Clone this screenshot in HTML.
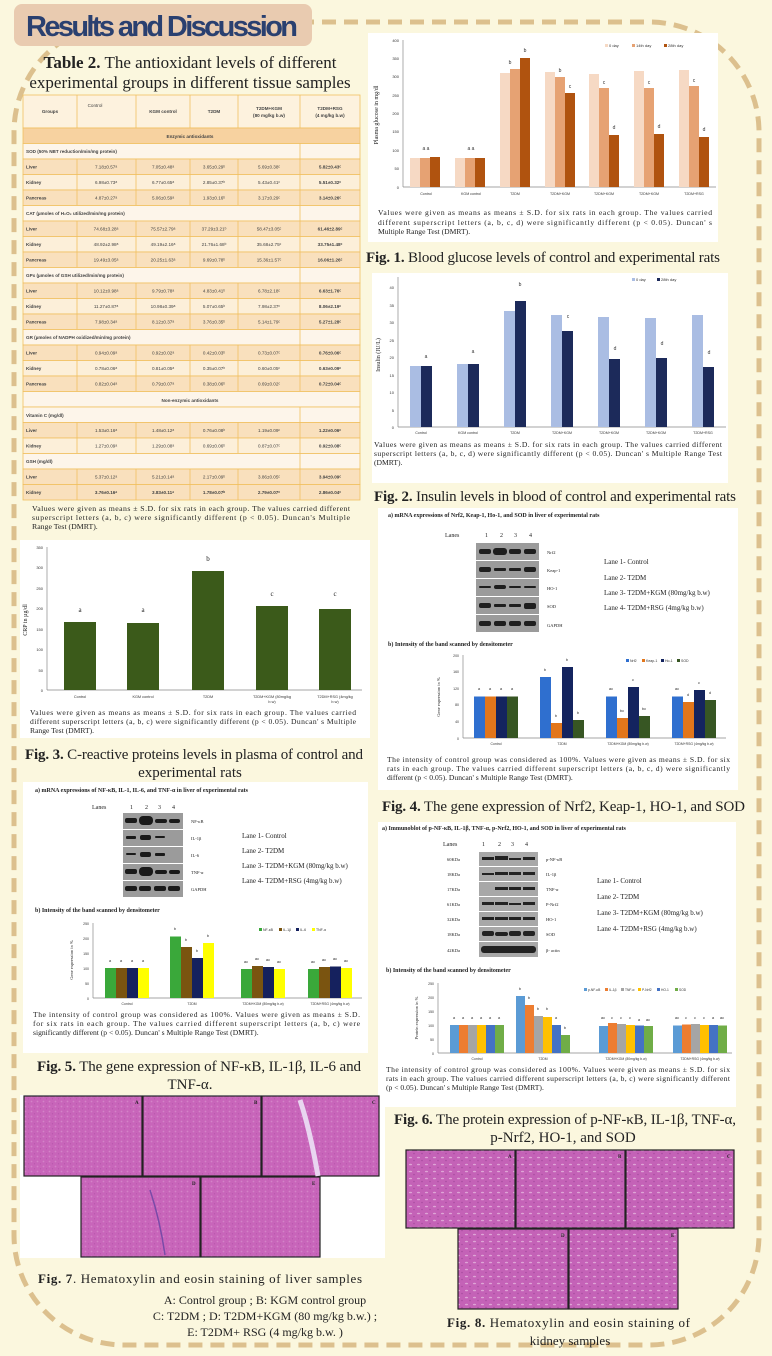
<!DOCTYPE html>
<html><head><meta charset="utf-8"><style>
html,body{margin:0;padding:0;background:#fbf7de;}
svg{display:block}
.s{font-family:"Liberation Serif",serif;fill:#222}
.a{font-family:"Liberation Sans",sans-serif;fill:#333}
.t{font-family:"Liberation Sans",sans-serif;font-size:4.6px;fill:#444;text-anchor:middle}
.tb{font-weight:bold}
</style></head><body>
<svg width="772" height="1356" viewBox="0 0 772 1356" xmlns="http://www.w3.org/2000/svg">
<defs>
<pattern id="he" width="6" height="5" patternUnits="userSpaceOnUse">
<rect width="6" height="5" fill="#c865ba"/>
<circle cx="1.5" cy="1.5" r="0.9" fill="#d383c8"/>
<circle cx="4.5" cy="3.8" r="0.6" fill="#b555aa"/>
</pattern>
<pattern id="hk" width="8" height="7" patternUnits="userSpaceOnUse">
<rect width="8" height="7" fill="#c462b7"/>
<ellipse cx="2.5" cy="2.5" rx="1.6" ry="0.8" fill="#dea4d6"/>
<circle cx="6" cy="5.5" r="0.8" fill="#a84ba0"/>
</pattern>
</defs>
<rect width="772" height="1356" fill="#fbf7de"/>
<rect x="14" y="22" width="745" height="1323" rx="110" fill="none" stroke="#dcc08e" stroke-width="5" stroke-dasharray="14 8"/>
<rect x="14" y="4" width="298" height="42" rx="8" fill="#e9cbb0"/>
<text x="26" y="36" font-family="Liberation Sans,sans-serif" font-weight="bold" font-size="29" fill="#2a4070" textLength="272">Results and Discussion</text>

<!-- Table 2 -->
<text x="190" y="68" class="s" font-size="17" text-anchor="middle"><tspan font-weight="bold">Table 2.</tspan> The antioxidant levels of different</text>
<text x="190" y="88" class="s" font-size="17" text-anchor="middle">experimental groups in different tissue samples</text>
<g stroke="#f0c060" stroke-width="0.8">
<rect x="23" y="95" width="337" height="33" fill="#fdf2de"/>
<rect x="23" y="128" width="337" height="15.5" fill="#f7d2a0"/>
<rect x="23" y="143.5" width="337" height="15.5" fill="#fdf5ea"/>
<rect x="23" y="159" width="337" height="15.5" fill="#f9e0bd"/>
<rect x="23" y="174.5" width="337" height="15.5" fill="#fcefd9"/>
<rect x="23" y="190" width="337" height="15.5" fill="#f9e0bd"/>
<rect x="23" y="205.5" width="337" height="15.5" fill="#fdf5ea"/>
<rect x="23" y="221" width="337" height="15.5" fill="#f9e0bd"/>
<rect x="23" y="236.5" width="337" height="15.5" fill="#fcefd9"/>
<rect x="23" y="252" width="337" height="15.5" fill="#f9e0bd"/>
<rect x="23" y="267.5" width="337" height="15.5" fill="#fdf5ea"/>
<rect x="23" y="283" width="337" height="15.5" fill="#f9e0bd"/>
<rect x="23" y="298.5" width="337" height="15.5" fill="#fcefd9"/>
<rect x="23" y="314" width="337" height="15.5" fill="#f9e0bd"/>
<rect x="23" y="329.5" width="337" height="15.5" fill="#fdf5ea"/>
<rect x="23" y="345" width="337" height="15.5" fill="#f9e0bd"/>
<rect x="23" y="360.5" width="337" height="15.5" fill="#fcefd9"/>
<rect x="23" y="376" width="337" height="15.5" fill="#f9e0bd"/>
<rect x="23" y="391.5" width="337" height="15.5" fill="#fdf5ea"/>
<rect x="23" y="407" width="337" height="15.5" fill="#fdf5ea"/>
<rect x="23" y="422.5" width="337" height="15.5" fill="#f9e0bd"/>
<rect x="23" y="438" width="337" height="15.5" fill="#fcefd9"/>
<rect x="23" y="453.5" width="337" height="15.5" fill="#fdf5ea"/>
<rect x="23" y="469" width="337" height="15.5" fill="#f9e0bd"/>
<rect x="23" y="484.5" width="337" height="15.5" fill="#f9e0bd"/>
<line x1="77" y1="95" x2="77" y2="128"/><line x1="136" y1="95" x2="136" y2="128"/><line x1="190" y1="95" x2="190" y2="128"/><line x1="238" y1="95" x2="238" y2="128"/><line x1="300" y1="95" x2="300" y2="128"/>
<path d="M77 159V205.5M136 159V205.5M190 159V205.5M238 159V205.5M300 143.5V205.5M77 221V267.5M136 221V267.5M190 221V267.5M238 221V267.5M300 205.5V267.5M77 283V329.5M136 283V329.5M190 283V329.5M238 283V329.5M300 267.5V329.5M77 345V391.5M136 345V391.5M190 345V391.5M238 345V391.5M300 329.5V391.5M77 422.5V453.5M136 422.5V453.5M190 422.5V453.5M238 422.5V453.5M300 407V453.5M77 469V500M136 469V500M190 469V500M238 469V500M300 453.5V500"/>
</g>
<g class="t">
<text x="50" y="113" class="tb">Groups</text><text x="95" y="107">Control</text><text x="163" y="113" class="tb">KGM control</text><text x="214" y="113" class="tb">T2DM</text><text x="269" y="110" class="tb">T2DM+KGM</text><text x="269" y="117" class="tb">(80 mg/kg b.w)</text><text x="330" y="110" class="tb">T2DM+RSG</text><text x="330" y="117" class="tb">(4 mg/kg b.w)</text>
<text x="190" y="138" class="tb">Enzymic antioxidants</text>
<text x="190" y="402" class="tb">Non-enzymic antioxidants</text>
</g>
<g class="t">
<text x="26" y="153" class="tb" style="text-anchor:start">SOD (50% NBT reduction/min/mg protein)</text>
<text x="26" y="215" class="tb" style="text-anchor:start">CAT (µmoles of H₂O₂ utilized/min/mg protein)</text>
<text x="26" y="277" class="tb" style="text-anchor:start">GPx (µmoles of GSH utilized/min/mg protein)</text>
<text x="26" y="339" class="tb" style="text-anchor:start">GR (µmoles of NADPH oxidized/min/mg protein)</text>
<text x="26" y="417" class="tb" style="text-anchor:start">Vitamin C (mg/dl)</text>
<text x="26" y="463" class="tb" style="text-anchor:start">GSH (mg/dl)</text>
<text x="26" y="168.5" class="tb" style="text-anchor:start">Liver</text><text x="26" y="184" class="tb" style="text-anchor:start">Kidney</text><text x="26" y="199.5" class="tb" style="text-anchor:start">Pancreas</text>
<text x="26" y="230.5" class="tb" style="text-anchor:start">Liver</text><text x="26" y="246" class="tb" style="text-anchor:start">Kidney</text><text x="26" y="261.5" class="tb" style="text-anchor:start">Pancreas</text>
<text x="26" y="292.5" class="tb" style="text-anchor:start">Liver</text><text x="26" y="308" class="tb" style="text-anchor:start">Kidney</text><text x="26" y="323.5" class="tb" style="text-anchor:start">Pancreas</text>
<text x="26" y="354.5" class="tb" style="text-anchor:start">Liver</text><text x="26" y="370" class="tb" style="text-anchor:start">Kidney</text><text x="26" y="385.5" class="tb" style="text-anchor:start">Pancreas</text>
<text x="26" y="432" class="tb" style="text-anchor:start">Liver</text><text x="26" y="447.5" class="tb" style="text-anchor:start">Kidney</text>
<text x="26" y="478.5" class="tb" style="text-anchor:start">Liver</text><text x="26" y="494" class="tb" style="text-anchor:start">Kidney</text>
</g>
<g class="t">
<text x="106" y="168.5">7.18±0.57ᵃ</text><text x="163" y="168.5">7.05±0.48ᵃ</text><text x="214" y="168.5">3.65±0.29ᵇ</text><text x="269" y="168.5">5.69±0.38ᶜ</text><text x="330" y="168.5" class="tb">5.82±0.43ᶜ</text>
<text x="106" y="184">6.98±0.73ᵃ</text><text x="163" y="184">6.77±0.65ᵃ</text><text x="214" y="184">2.85±0.37ᵇ</text><text x="269" y="184">5.43±0.41ᶜ</text><text x="330" y="184" class="tb">5.51±0.32ᶜ</text>
<text x="106" y="199.5">4.87±0.27ᵃ</text><text x="163" y="199.5">5.06±0.59ᵃ</text><text x="214" y="199.5">1.93±0.16ᵇ</text><text x="269" y="199.5">3.17±0.29ᶜ</text><text x="330" y="199.5" class="tb">3.14±0.26ᶜ</text>
<text x="106" y="230.5">74.68±3.28ᵃ</text><text x="163" y="230.5">75.57±2.79ᵃ</text><text x="214" y="230.5">37.29±3.21ᵇ</text><text x="269" y="230.5">58.47±3.05ᶜ</text><text x="330" y="230.5" class="tb">61.46±2.89ᶜ</text>
<text x="106" y="246">48.92±2.98ᵃ</text><text x="163" y="246">49.19±2.16ᵃ</text><text x="214" y="246">21.76±1.68ᵇ</text><text x="269" y="246">35.68±2.75ᶜ</text><text x="330" y="246" class="tb">33.75±1.48ᶜ</text>
<text x="106" y="261.5">19.49±3.05ᵃ</text><text x="163" y="261.5">20.25±1.63ᵃ</text><text x="214" y="261.5">9.69±0.78ᵇ</text><text x="269" y="261.5">15.36±1.57ᶜ</text><text x="330" y="261.5" class="tb">16.06±1.26ᶜ</text>
<text x="106" y="292.5">10.12±0.98ᵃ</text><text x="163" y="292.5">9.79±0.78ᵃ</text><text x="214" y="292.5">4.83±0.41ᵇ</text><text x="269" y="292.5">6.78±2.18ᶜ</text><text x="330" y="292.5" class="tb">6.63±1.76ᶜ</text>
<text x="106" y="308">11.27±0.87ᵃ</text><text x="163" y="308">10.98±0.39ᵃ</text><text x="214" y="308">5.07±0.65ᵇ</text><text x="269" y="308">7.98±2.37ᶜ</text><text x="330" y="308" class="tb">8.06±2.19ᶜ</text>
<text x="106" y="323.5">7.98±0.34ᵃ</text><text x="163" y="323.5">8.12±0.37ᵃ</text><text x="214" y="323.5">3.76±0.35ᵇ</text><text x="269" y="323.5">5.14±1.79ᶜ</text><text x="330" y="323.5" class="tb">5.27±1.28ᶜ</text>
<text x="106" y="354.5">0.94±0.09ᵃ</text><text x="163" y="354.5">0.92±0.02ᵃ</text><text x="214" y="354.5">0.42±0.03ᵇ</text><text x="269" y="354.5">0.73±0.07ᶜ</text><text x="330" y="354.5" class="tb">0.76±0.06ᶜ</text>
<text x="106" y="370">0.78±0.06ᵃ</text><text x="163" y="370">0.81±0.05ᵃ</text><text x="214" y="370">0.35±0.07ᵇ</text><text x="269" y="370">0.60±0.05ᶜ</text><text x="330" y="370" class="tb">0.63±0.09ᶜ</text>
<text x="106" y="385.5">0.82±0.04ᵃ</text><text x="163" y="385.5">0.79±0.07ᵃ</text><text x="214" y="385.5">0.38±0.06ᵇ</text><text x="269" y="385.5">0.69±0.02ᶜ</text><text x="330" y="385.5" class="tb">0.72±0.04ᶜ</text>
<text x="106" y="432">1.53±0.16ᵃ</text><text x="163" y="432">1.48±0.12ᵃ</text><text x="214" y="432">0.76±0.08ᵇ</text><text x="269" y="432">1.19±0.09ᶜ</text><text x="330" y="432" class="tb">1.22±0.06ᶜ</text>
<text x="106" y="447.5">1.27±0.09ᵃ</text><text x="163" y="447.5">1.29±0.08ᵃ</text><text x="214" y="447.5">0.69±0.06ᵇ</text><text x="269" y="447.5">0.87±0.07ᶜ</text><text x="330" y="447.5" class="tb">0.92±0.08ᶜ</text>
<text x="106" y="478.5">5.37±0.12ᵃ</text><text x="163" y="478.5">5.21±0.14ᵃ</text><text x="214" y="478.5">2.17±0.09ᵇ</text><text x="269" y="478.5">3.86±0.05ᶜ</text><text x="330" y="478.5" class="tb">3.94±0.09ᶜ</text>
<text x="106" y="494" class="tb">3.76±0.16ᵃ</text><text x="163" y="494" class="tb">3.83±0.11ᵃ</text><text x="214" y="494" class="tb">1.78±0.07ᵇ</text><text x="269" y="494" class="tb">2.79±0.07ᶜ</text><text x="330" y="494" class="tb">2.86±0.04ᶜ</text>
</g>
<g class="s" font-size="7.8">
<text x="32" y="511" textLength="318">Values were given as means ± S.D. for six rats in each group. The values carried different</text>
<text x="32" y="520" textLength="318">superscript letters (a, b, c) were significantly different (p &lt; 0.05). Duncan's Multiple</text>
<text x="32" y="529">Range Test (DMRT).</text>
</g>

<!-- Fig 1 -->
<rect x="368" y="33" width="350" height="209" fill="#fff"/>
<g stroke="#888" stroke-width="0.7"><line x1="403" y1="40" x2="403" y2="187"/><line x1="403" y1="187" x2="716" y2="187"/></g>
<g class="a" font-size="4" text-anchor="end"><text x="399" y="189">0</text><text x="399" y="170">50</text><text x="399" y="152">100</text><text x="399" y="133">150</text><text x="399" y="115">200</text><text x="399" y="97">250</text><text x="399" y="78">300</text><text x="399" y="60">350</text><text x="399" y="42">400</text></g>
<text transform="translate(378,115) rotate(-90)" class="s" font-size="6" text-anchor="middle">Plasma glucose in mg/dl</text>
<g fill="#f6d9c4"><rect x="410" y="158" width="10" height="29"/><rect x="455" y="158" width="10" height="29"/><rect x="500" y="73" width="10" height="114"/><rect x="545" y="72" width="10" height="115"/><rect x="589" y="74" width="10" height="113"/><rect x="634" y="71" width="10" height="116"/><rect x="679" y="70" width="10" height="117"/></g>
<g fill="#e6a273"><rect x="420" y="158" width="10" height="29"/><rect x="465" y="158" width="10" height="29"/><rect x="510" y="69" width="10" height="118"/><rect x="555" y="77" width="10" height="110"/><rect x="599" y="88" width="10" height="99"/><rect x="644" y="88" width="10" height="99"/><rect x="689" y="86" width="10" height="101"/></g>
<g fill="#b0530f"><rect x="430" y="157" width="10" height="30"/><rect x="475" y="158" width="10" height="29"/><rect x="520" y="58" width="10" height="129"/><rect x="565" y="93" width="10" height="94"/><rect x="609" y="135" width="10" height="52"/><rect x="654" y="134" width="10" height="53"/><rect x="699" y="137" width="10" height="50"/></g>
<g class="a" font-size="5" text-anchor="middle"><text x="426" y="150">a a</text><text x="471" y="150">a a</text><text x="510" y="64">b</text><text x="525" y="52">b</text><text x="560" y="72">b</text><text x="570" y="88">c</text><text x="604" y="84">c</text><text x="614" y="129">d</text><text x="649" y="84">c</text><text x="659" y="128">d</text><text x="694" y="82">c</text><text x="704" y="131">d</text></g>
<g class="a" font-size="3.6" text-anchor="middle"><text x="426" y="195">Control</text><text x="471" y="195">KGM control</text><text x="515" y="195">T2DM</text><text x="560" y="195">T2DM+KGM</text><text x="604" y="195">T2DM+KGM</text><text x="649" y="195">T2DM+KGM</text><text x="694" y="195">T2DM+RSG</text></g>
<g class="a" font-size="4"><rect x="605" y="44" width="3" height="3" fill="#f6d9c4"/><text x="609" y="47">0 day</text><rect x="632" y="44" width="3" height="3" fill="#e6a273"/><text x="636" y="47">14th day</text><rect x="664" y="44" width="3" height="3" fill="#b0530f"/><text x="668" y="47">28th day</text></g>
<g class="s" font-size="7.6">
<text x="378" y="215" textLength="334">Values were given as means as means ± S.D. for six rats in each group. The values carried</text>
<text x="378" y="225" textLength="334">different superscript letters (a, b, c, d) were significantly different (p &lt; 0.05). Duncan' s</text>
<text x="378" y="234">Multiple Range Test (DMRT).</text>
</g>
<text x="366" y="262" class="s" font-size="15" textLength="354"><tspan font-weight="bold">Fig. 1.</tspan> Blood glucose levels of control and experimental rats</text>

<!-- Fig 2 -->
<rect x="372" y="273" width="356" height="210" fill="#fff"/>
<g stroke="#888" stroke-width="0.7"><line x1="398" y1="277" x2="398" y2="427"/><line x1="398" y1="427" x2="726" y2="427"/></g>
<g class="a" font-size="4" text-anchor="end"><text x="394" y="429">0</text><text x="394" y="412">5</text><text x="394" y="394">10</text><text x="394" y="377">15</text><text x="394" y="359">20</text><text x="394" y="342">25</text><text x="394" y="324">30</text><text x="394" y="307">35</text><text x="394" y="289">40</text></g>
<text transform="translate(380,355) rotate(-90)" class="s" font-size="6" text-anchor="middle">Insulin (IU/L)</text>
<g fill="#aabde3"><rect x="410" y="366" width="11" height="61"/><rect x="457" y="364" width="11" height="63"/><rect x="504" y="311" width="11" height="116"/><rect x="551" y="315" width="11" height="112"/><rect x="598" y="317" width="11" height="110"/><rect x="645" y="318" width="11" height="109"/><rect x="692" y="315" width="11" height="112"/></g>
<g fill="#1c2a5a"><rect x="421" y="366" width="11" height="61"/><rect x="468" y="364" width="11" height="63"/><rect x="515" y="301" width="11" height="126"/><rect x="562" y="331" width="11" height="96"/><rect x="609" y="359" width="11" height="68"/><rect x="656" y="358" width="11" height="69"/><rect x="703" y="367" width="11" height="60"/></g>
<g class="a" font-size="5" text-anchor="middle"><text x="426" y="358">a</text><text x="473" y="353">a</text><text x="520" y="286">b</text><text x="568" y="318">c</text><text x="615" y="350">d</text><text x="662" y="345">d</text><text x="709" y="354">d</text></g>
<g class="a" font-size="3.6" text-anchor="middle"><text x="421" y="434">Control</text><text x="468" y="434">KGM control</text><text x="515" y="434">T2DM</text><text x="562" y="434">T2DM+KGM</text><text x="609" y="434">T2DM+KGM</text><text x="656" y="434">T2DM+KGM</text><text x="703" y="434">T2DM+RSG</text></g>
<g class="a" font-size="4"><rect x="632" y="278" width="3" height="3" fill="#aabde3"/><text x="636" y="281">0 day</text><rect x="657" y="278" width="3" height="3" fill="#1c2a5a"/><text x="661" y="281">28th day</text></g>
<g class="s" font-size="7.6">
<text x="374" y="447" textLength="348">Values were given as means as means ± S.D. for six rats in each group. The values carried different</text>
<text x="374" y="456" textLength="348">superscript letters (a, b, c, d) were significantly different (p &lt; 0.05). Duncan' s Multiple Range Test</text>
<text x="374" y="465">(DMRT).</text>
</g>
<text x="374" y="501" class="s" font-size="15" textLength="362"><tspan font-weight="bold">Fig. 2.</tspan> Insulin levels in blood of control and experimental rats</text>

<!-- Fig 3 -->
<rect x="20" y="540" width="350" height="198" fill="#fff"/>
<g stroke="#888" stroke-width="0.7"><line x1="47" y1="547" x2="47" y2="690"/><line x1="47" y1="690" x2="362" y2="690"/></g>
<g class="a" font-size="4" text-anchor="end"><text x="43" y="692">0</text><text x="43" y="672">50</text><text x="43" y="651">100</text><text x="43" y="631">150</text><text x="43" y="610">200</text><text x="43" y="590">250</text><text x="43" y="569">300</text><text x="43" y="549">350</text></g>
<text transform="translate(27,620) rotate(-90)" class="s" font-size="6" text-anchor="middle">CRP in µg/dl</text>
<g fill="#3b5a1a"><rect x="64" y="622" width="32" height="68"/><rect x="127" y="623" width="32" height="67"/><rect x="192" y="571" width="32" height="119"/><rect x="256" y="606" width="32" height="84"/><rect x="319" y="609" width="32" height="81"/></g>
<g class="s" font-size="7" text-anchor="middle"><text x="80" y="612">a</text><text x="143" y="612">a</text><text x="208" y="561">b</text><text x="272" y="596">c</text><text x="335" y="596">c</text></g>
<g class="a" font-size="3.8" text-anchor="middle"><text x="80" y="698">Control</text><text x="143" y="698">KGM control</text><text x="208" y="698">T2DM</text><text x="272" y="698">T2DM+KGM (80mg/kg</text><text x="272" y="703">b.w)</text><text x="335" y="698">T2DM+RSG (4mg/kg</text><text x="335" y="703">b.w)</text></g>
<g class="s" font-size="7.6">
<text x="30" y="715" textLength="326">Values were given as means as means ± S.D. for six rats in each group. The values carried</text>
<text x="30" y="724" textLength="326">different superscript letters (a, b, c) were significantly different (p &lt; 0.05). Duncan' s Multiple</text>
<text x="30" y="733">Range Test (DMRT).</text>
</g>
<text x="25" y="759" class="s" font-size="15" textLength="338"><tspan font-weight="bold">Fig. 3.</tspan> C-reactive proteins levels in plasma of control and</text>
<text x="190" y="777" class="s" font-size="15" text-anchor="middle">experimental rats</text>

<!-- Fig 4 -->
<rect x="378" y="508" width="360" height="282" fill="#fff"/>
<text x="388" y="517" class="s" font-size="6" font-weight="bold">a) mRNA expressions of Nrf2, Keap-1, Ho-1, and SOD in liver of experimental rats</text>
<g class="s" font-size="6"><text x="445" y="537">Lanes</text><text x="485" y="537">1</text><text x="500" y="537">2</text><text x="514" y="537">3</text><text x="529" y="537">4</text></g>
<g fill="#9b9b9b"><rect x="476" y="543" width="63" height="17"/><rect x="476" y="561" width="63" height="17"/><rect x="476" y="579" width="63" height="17"/><rect x="476" y="597" width="63" height="17"/><rect x="476" y="615" width="63" height="17"/></g>
<g fill="#1e1e1e"><rect x="479" y="549" width="12" height="5" rx="2"/><rect x="493" y="548" width="14" height="7" rx="3"/><rect x="509" y="549" width="12" height="5" rx="2"/><rect x="524" y="549" width="12" height="5" rx="2"/>
<rect x="479" y="567" width="12" height="5" rx="2"/><rect x="494" y="568" width="12" height="3" rx="1"/><rect x="509" y="568" width="12" height="3" rx="1"/><rect x="524" y="567" width="12" height="5" rx="2"/>
<rect x="479" y="586" width="12" height="2" rx="1"/><rect x="494" y="585" width="12" height="4" rx="2"/><rect x="509" y="586" width="12" height="2" rx="1"/><rect x="524" y="586" width="12" height="2" rx="1"/>
<rect x="479" y="603" width="12" height="5" rx="2"/><rect x="494" y="604" width="12" height="3" rx="1"/><rect x="509" y="604" width="12" height="3" rx="1"/><rect x="524" y="603" width="12" height="6" rx="2"/>
<rect x="479" y="621" width="12" height="5" rx="2"/><rect x="494" y="621" width="12" height="5" rx="2"/><rect x="509" y="621" width="12" height="5" rx="2"/><rect x="524" y="621" width="12" height="5" rx="2"/></g>
<g class="s" font-size="4.5"><text x="547" y="554">Nrf2</text><text x="547" y="572">Keap-1</text><text x="547" y="590">HO-1</text><text x="547" y="608">SOD</text><text x="547" y="627">GAPDH</text></g>
<g class="s" font-size="7"><text x="604" y="564">Lane 1- Control</text><text x="604" y="580">Lane 2- T2DM</text><text x="604" y="595">Lane 3- T2DM+KGM (80mg/kg b.w)</text><text x="604" y="610">Lane 4- T2DM+RSG (4mg/kg b.w)</text></g>
<text x="388" y="646" class="s" font-size="6" font-weight="bold">b) Intensity of the band scanned by densitometer</text>
<g stroke="#888" stroke-width="0.7"><line x1="463" y1="655" x2="463" y2="738"/><line x1="463" y1="738" x2="726" y2="738"/></g>
<g class="a" font-size="3.5" text-anchor="end"><text x="459" y="740">0</text><text x="459" y="723">40</text><text x="459" y="706">80</text><text x="459" y="690">120</text><text x="459" y="673">160</text><text x="459" y="657">200</text></g>
<text transform="translate(440,697) rotate(-90)" class="s" font-size="4.5" text-anchor="middle">Gene expression in %</text>
<g fill="#2f6fcf"><rect x="474" y="696.5" width="11" height="41.5"/><rect x="540" y="677" width="11" height="61"/><rect x="606" y="696.5" width="11" height="41.5"/><rect x="672" y="696.5" width="11" height="41.5"/></g>
<g fill="#e2761b"><rect x="485" y="696.5" width="11" height="41.5"/><rect x="551" y="723" width="11" height="15"/><rect x="617" y="718" width="11" height="20"/><rect x="683" y="702" width="11" height="36"/></g>
<g fill="#14245f"><rect x="496" y="696.5" width="11" height="41.5"/><rect x="562" y="667" width="11" height="71"/><rect x="628" y="687" width="11" height="51"/><rect x="694" y="690" width="11" height="48"/></g>
<g fill="#375623"><rect x="507" y="696.5" width="11" height="41.5"/><rect x="573" y="720" width="11" height="18"/><rect x="639" y="716" width="11" height="22"/><rect x="705" y="700" width="11" height="38"/></g>
<g class="a" font-size="4" text-anchor="middle"><text x="479" y="690">a</text><text x="490" y="690">a</text><text x="501" y="690">a</text><text x="512" y="690">a</text><text x="545" y="671">b</text><text x="556" y="717">b</text><text x="567" y="661">b</text><text x="578" y="714">b</text><text x="611" y="690">ac</text><text x="622" y="712">bc</text><text x="633" y="681">c</text><text x="644" y="710">bc</text><text x="677" y="690">ac</text><text x="688" y="696">d</text><text x="699" y="684">c</text><text x="710" y="694">d</text></g>
<g class="a" font-size="3.4" text-anchor="middle"><text x="496" y="745">Control</text><text x="562" y="745">T2DM</text><text x="628" y="745">T2DM+KGM (80mg/kg b.w)</text><text x="694" y="745">T2DM+RSG (4mg/kg b.w)</text></g>
<g class="a" font-size="3.5"><rect x="626" y="659" width="3" height="3" fill="#2f6fcf"/><text x="630" y="662">Nrf2</text><rect x="642" y="659" width="3" height="3" fill="#e2761b"/><text x="646" y="662">Keap-1</text><rect x="661" y="659" width="3" height="3" fill="#14245f"/><text x="665" y="662">Ho-1</text><rect x="677" y="659" width="3" height="3" fill="#375623"/><text x="681" y="662">SOD</text></g>
<g class="s" font-size="7.6">
<text x="387" y="762" textLength="343">The intensity of control group was considered as 100%. Values were given as means ± S.D. for six</text>
<text x="387" y="771" textLength="343">rats in each group. The values carried different superscript letters (a, b, c, d) were significantly</text>
<text x="387" y="780">different (p &lt; 0.05). Duncan' s Multiple Range Test (DMRT).</text>
</g>
<text x="382" y="811" class="s" font-size="15" textLength="363"><tspan font-weight="bold">Fig. 4.</tspan> The gene expression of Nrf2, Keap-1, HO-1, and SOD</text>

<!-- Fig 5 -->
<rect x="23" y="782" width="345" height="271" fill="#fff"/>
<text x="35" y="792" class="s" font-size="6" font-weight="bold">a) mRNA expressions of NF-κB, IL-1, IL-6, and TNF-α  in liver of experimental rats</text>
<g class="s" font-size="6"><text x="92" y="809">Lanes</text><text x="130" y="809">1</text><text x="145" y="809">2</text><text x="158" y="809">3</text><text x="172" y="809">4</text></g>
<g fill="#9b9b9b"><rect x="123" y="813" width="60" height="16"/><rect x="123" y="830" width="60" height="16"/><rect x="123" y="847" width="60" height="16"/><rect x="123" y="864" width="60" height="16"/><rect x="123" y="881" width="60" height="16"/></g>
<g fill="#1a1a1a"><rect x="125" y="818" width="12" height="5" rx="2"/><rect x="139" y="816" width="14" height="9" rx="4"/><rect x="155" y="819" width="12" height="4" rx="2"/><rect x="169" y="819" width="11" height="4" rx="2"/>
<rect x="126" y="836" width="10" height="3" rx="1"/><rect x="140" y="835" width="11" height="5" rx="2"/><rect x="155" y="836" width="10" height="2" rx="1"/>
<rect x="126" y="853" width="10" height="2" rx="1"/><rect x="140" y="852" width="11" height="5" rx="2"/><rect x="155" y="853" width="10" height="3" rx="1"/>
<rect x="125" y="869" width="12" height="5" rx="2"/><rect x="139" y="867" width="14" height="9" rx="4"/><rect x="155" y="870" width="12" height="4" rx="2"/><rect x="169" y="870" width="11" height="4" rx="2"/>
<rect x="125" y="886" width="12" height="5" rx="2"/><rect x="139" y="886" width="12" height="5" rx="2"/><rect x="154" y="886" width="12" height="5" rx="2"/><rect x="168" y="886" width="12" height="5" rx="2"/></g>
<g class="s" font-size="4.5"><text x="191" y="823">NF-κB</text><text x="191" y="840">IL-1β</text><text x="191" y="857">IL-6</text><text x="191" y="874">TNF-α</text><text x="191" y="891">GAPDH</text></g>
<g class="s" font-size="7"><text x="242" y="838">Lane 1- Control</text><text x="242" y="853">Lane 2- T2DM</text><text x="242" y="868">Lane 3- T2DM+KGM (80mg/kg b.w)</text><text x="242" y="883">Lane 4- T2DM+RSG (4mg/kg b.w)</text></g>
<text x="35" y="912" class="s" font-size="6" font-weight="bold">b) Intensity of the band scanned by densitometer</text>
<g stroke="#888" stroke-width="0.7"><line x1="93" y1="923" x2="93" y2="998"/><line x1="93" y1="998" x2="362" y2="998"/></g>
<g class="a" font-size="3.5" text-anchor="end"><text x="89" y="1000">0</text><text x="89" y="985">50</text><text x="89" y="970">100</text><text x="89" y="955">150</text><text x="89" y="940">200</text><text x="89" y="925">250</text></g>
<text transform="translate(73,960) rotate(-90)" class="s" font-size="4.5" text-anchor="middle">Gene expression in %</text>
<g fill="#3aa83a"><rect x="105" y="968" width="11" height="30"/><rect x="170" y="936.5" width="11" height="61.5"/><rect x="241" y="969" width="11" height="29"/><rect x="308" y="969" width="11" height="29"/></g>
<g fill="#7a5410"><rect x="116" y="968" width="11" height="30"/><rect x="181" y="947" width="11" height="51"/><rect x="252" y="966" width="11" height="32"/><rect x="319" y="967" width="11" height="31"/></g>
<g fill="#15215e"><rect x="127" y="968" width="11" height="30"/><rect x="192" y="958" width="11" height="40"/><rect x="263" y="967" width="11" height="31"/><rect x="330" y="966.5" width="11" height="31.5"/></g>
<g fill="#ffff00"><rect x="138" y="968" width="11" height="30"/><rect x="203" y="943" width="11" height="55"/><rect x="274" y="969" width="11" height="29"/><rect x="341" y="968" width="11" height="30"/></g>
<g class="a" font-size="4" text-anchor="middle"><text x="110" y="962">a</text><text x="121" y="962">a</text><text x="132" y="962">a</text><text x="143" y="962">a</text><text x="175" y="930">b</text><text x="186" y="941">b</text><text x="197" y="952">b</text><text x="208" y="937">b</text><text x="246" y="963">ac</text><text x="257" y="960">ac</text><text x="268" y="961">ac</text><text x="279" y="963">ac</text><text x="313" y="963">ac</text><text x="324" y="961">ac</text><text x="335" y="960">ac</text><text x="346" y="962">ac</text></g>
<g class="a" font-size="3.4" text-anchor="middle"><text x="127" y="1005">Control</text><text x="192" y="1005">T2DM</text><text x="263" y="1005">T2DM+KGM (80mg/kg b.w)</text><text x="330" y="1005">T2DM+RSG (4mg/kg b.w)</text></g>
<g class="a" font-size="3.5"><rect x="259" y="928" width="3" height="3" fill="#3aa83a"/><text x="263" y="931">NF-κB</text><rect x="279" y="928" width="3" height="3" fill="#7a5410"/><text x="283" y="931">IL-1β</text><rect x="296" y="928" width="3" height="3" fill="#15215e"/><text x="300" y="931">IL-6</text><rect x="312" y="928" width="3" height="3" fill="#ffff00"/><text x="316" y="931">TNF-α</text></g>
<g class="s" font-size="7.6">
<text x="33" y="1017" textLength="327">The intensity of control group was considered as 100%. Values were given as means ± S.D.</text>
<text x="33" y="1026" textLength="327">for six rats in each group. The values carried different superscript letters (a, b, c) were</text>
<text x="33" y="1035">significantly different (p &lt; 0.05). Duncan' s Multiple Range Test (DMRT).</text>
</g>
<text x="37" y="1071" class="s" font-size="15" textLength="324"><tspan font-weight="bold">Fig. 5.</tspan> The gene expression of NF-κB, IL-1β, IL-6 and</text>
<text x="190" y="1089" class="s" font-size="15" text-anchor="middle">TNF-α.</text>

<!-- Fig 6 -->
<rect x="378" y="822" width="358" height="285" fill="#fff"/>
<text x="382" y="830" class="s" font-size="6" font-weight="bold">a) Immunoblot of p-NF-κB, IL-1β, TNF-α, p-Nrf2, HO-1, and SOD  in liver of experimental rats</text>
<g class="s" font-size="6"><text x="443" y="846">Lanes</text><text x="482" y="846">1</text><text x="498" y="846">2</text><text x="511" y="846">3</text><text x="525" y="846">4</text></g>
<g fill="#a8a8a8"><rect x="479" y="852" width="59" height="14"/><rect x="479" y="867" width="59" height="14"/><rect x="479" y="882" width="59" height="14"/><rect x="479" y="897" width="59" height="14"/><rect x="479" y="912" width="59" height="14"/><rect x="479" y="927" width="59" height="14"/><rect x="479" y="942" width="59" height="15"/></g>
<g fill="#222"><rect x="482" y="857" width="12" height="3"/><rect x="495" y="856" width="13" height="4"/><rect x="509" y="858" width="12" height="2"/><rect x="523" y="857" width="12" height="3"/>
<rect x="482" y="873" width="12" height="2"/><rect x="495" y="872" width="13" height="3"/><rect x="509" y="872" width="12" height="3"/><rect x="523" y="872" width="12" height="3"/>
<rect x="495" y="887" width="13" height="3"/><rect x="509" y="887" width="12" height="3"/><rect x="523" y="887" width="12" height="3"/>
<rect x="482" y="902" width="12" height="3"/><rect x="495" y="902" width="13" height="3"/><rect x="509" y="903" width="12" height="2"/><rect x="523" y="902" width="12" height="3"/>
<rect x="482" y="917" width="12" height="3"/><rect x="495" y="917" width="13" height="3"/><rect x="509" y="917" width="12" height="3"/><rect x="523" y="917" width="12" height="3"/>
<rect x="482" y="931" width="12" height="5" rx="2"/><rect x="495" y="932" width="13" height="4" rx="2"/><rect x="509" y="931" width="12" height="5" rx="2"/><rect x="523" y="931" width="12" height="5" rx="2"/>
<rect x="481" y="946" width="55" height="7" rx="3"/></g>
<g class="s" font-size="4.5"><text x="447" y="861">60KDa</text><text x="447" y="876">18KDa</text><text x="447" y="891">17KDa</text><text x="447" y="906">61KDa</text><text x="447" y="921">32KDa</text><text x="447" y="936">18KDa</text><text x="447" y="952">42KDa</text>
<text x="546" y="861">p-NF-κB</text><text x="546" y="876">IL-1β</text><text x="546" y="891">TNF-α</text><text x="546" y="906">P-Nrf2</text><text x="546" y="921">HO-1</text><text x="546" y="936">SOD</text><text x="546" y="952">β- actin</text></g>
<g class="s" font-size="7"><text x="597" y="883">Lane 1- Control</text><text x="597" y="899">Lane 2- T2DM</text><text x="597" y="915">Lane 3- T2DM+KGM (80mg/kg b.w)</text><text x="597" y="931">Lane 4- T2DM+RSG (4mg/kg b.w)</text></g>
<text x="386" y="972" class="s" font-size="6" font-weight="bold">b) Intensity of the band scanned by densitometer</text>
<g stroke="#888" stroke-width="0.7"><line x1="438" y1="983" x2="438" y2="1053"/><line x1="438" y1="1053" x2="732" y2="1053"/></g>
<g class="a" font-size="3.5" text-anchor="end"><text x="434" y="1055">0</text><text x="434" y="1041">50</text><text x="434" y="1027">100</text><text x="434" y="1013">150</text><text x="434" y="999">200</text><text x="434" y="985">250</text></g>
<text transform="translate(418,1018) rotate(-90)" class="s" font-size="4.5" text-anchor="middle">Protein expression in %</text>
<g fill="#5b9bd5"><rect x="450" y="1025" width="9" height="28"/><rect x="516" y="996" width="9" height="57"/><rect x="599" y="1026" width="9" height="27"/><rect x="673" y="1025.5" width="9" height="27.5"/></g>
<g fill="#ed7d31"><rect x="459" y="1025" width="9" height="28"/><rect x="525" y="1005" width="9" height="48"/><rect x="608" y="1023" width="9" height="30"/><rect x="682" y="1024.5" width="9" height="28.5"/></g>
<g fill="#a5a5a5"><rect x="468" y="1025" width="9" height="28"/><rect x="534" y="1016" width="9" height="37"/><rect x="617" y="1024" width="9" height="29"/><rect x="691" y="1024" width="9" height="29"/></g>
<g fill="#ffc000"><rect x="477" y="1025" width="9" height="28"/><rect x="543" y="1017" width="9" height="36"/><rect x="626" y="1025" width="9" height="28"/><rect x="700" y="1025" width="9" height="28"/></g>
<g fill="#4472c4"><rect x="486" y="1025" width="9" height="28"/><rect x="552" y="1025" width="9" height="28"/><rect x="635" y="1025.5" width="9" height="27.5"/><rect x="709" y="1025" width="9" height="28"/></g>
<g fill="#70ad47"><rect x="495" y="1025" width="9" height="28"/><rect x="561" y="1035" width="9" height="18"/><rect x="644" y="1026" width="9" height="27"/><rect x="718" y="1025.5" width="9" height="27.5"/></g>
<g class="a" font-size="4" text-anchor="middle"><text x="454" y="1019">a</text><text x="463" y="1019">a</text><text x="472" y="1019">a</text><text x="481" y="1019">a</text><text x="490" y="1019">a</text><text x="499" y="1019">a</text><text x="520" y="990">b</text><text x="529" y="999">b</text><text x="538" y="1010">b</text><text x="547" y="1010">b</text><text x="556" y="1019">a</text><text x="565" y="1029">b</text><text x="603" y="1019">ac</text><text x="612" y="1019">c</text><text x="621" y="1019">c</text><text x="630" y="1019">c</text><text x="639" y="1021">a</text><text x="648" y="1021">ac</text><text x="677" y="1019">ac</text><text x="686" y="1019">c</text><text x="695" y="1019">c</text><text x="704" y="1019">c</text><text x="713" y="1019">a</text><text x="722" y="1019">ac</text></g>
<g class="a" font-size="3.4" text-anchor="middle"><text x="477" y="1060">Control</text><text x="543" y="1060">T2DM</text><text x="626" y="1060">T2DM+KGM (80mg/kg b.w)</text><text x="700" y="1060">T2DM+RSG (4mg/kg b.w)</text></g>
<g class="a" font-size="3.3"><rect x="584" y="988" width="3" height="3" fill="#5b9bd5"/><text x="588" y="991">p-NF-κB</text><rect x="605" y="988" width="3" height="3" fill="#ed7d31"/><text x="609" y="991">IL-1β</text><rect x="621" y="988" width="3" height="3" fill="#a5a5a5"/><text x="625" y="991">TNF-α</text><rect x="638" y="988" width="3" height="3" fill="#ffc000"/><text x="642" y="991">P-Nrf2</text><rect x="657" y="988" width="3" height="3" fill="#4472c4"/><text x="661" y="991">HO-1</text><rect x="675" y="988" width="3" height="3" fill="#70ad47"/><text x="679" y="991">SOD</text></g>
<g class="s" font-size="7.6">
<text x="386" y="1072" textLength="344">The intensity of control group was considered as 100%. Values were given as means ± S.D. for six</text>
<text x="386" y="1081" textLength="344">rats in each group. The values carried different superscript letters (a, b, c) were significantly different</text>
<text x="386" y="1090">(p &lt; 0.05). Duncan' s Multiple Range Test (DMRT).</text>
</g>
<text x="394" y="1124" class="s" font-size="15" textLength="342"><tspan font-weight="bold">Fig. 6.</tspan> The protein expression of p-NF-κB, IL-1β, TNF-α,</text>
<text x="563" y="1142" class="s" font-size="15" text-anchor="middle">p-Nrf2, HO-1, and SOD</text>

<!-- Fig 7 -->
<rect x="20" y="1095" width="365" height="163" fill="#fff"/>
<g stroke="#222" stroke-width="1.2">
<rect x="24" y="1096" width="118" height="80" fill="url(#he)"/>
<rect x="143" y="1096" width="118" height="80" fill="url(#he)"/>
<rect x="262" y="1096" width="117" height="80" fill="url(#he)"/>
<rect x="81" y="1177" width="119" height="80" fill="url(#he)"/>
<rect x="201" y="1177" width="119" height="80" fill="url(#he)"/>
</g>
<path d="M300 1100 Q310 1130 318 1176" stroke="#e9d5f0" stroke-width="5" fill="none"/>
<path d="M150 1190 Q160 1220 165 1255" stroke="#7a4aa8" stroke-width="1.5" fill="none"/>
<g class="s" font-size="5" font-weight="bold" fill="#111"><text x="135" y="1104">A</text><text x="254" y="1104">B</text><text x="372" y="1104">C</text><text x="192" y="1185">D</text><text x="312" y="1185">E</text></g>
<text x="38" y="1283" class="s" font-size="13" textLength="324"><tspan font-weight="bold">Fig. 7</tspan>. Hematoxylin and eosin staining of liver samples</text>
<g class="s" font-size="12" text-anchor="middle"><text x="265" y="1304">A: Control group ; B: KGM control group</text><text x="265" y="1320">C: T2DM ; D: T2DM+KGM (80 mg/kg b.w.) ;</text><text x="265" y="1336">E: T2DM+ RSG (4 mg/kg b.w. )</text></g>

<!-- Fig 8 -->
<g stroke="#222" stroke-width="1.2">
<rect x="406" y="1150" width="109" height="78" fill="url(#hk)"/>
<rect x="516" y="1150" width="109" height="78" fill="url(#hk)"/>
<rect x="626" y="1150" width="108" height="78" fill="url(#hk)"/>
<rect x="458" y="1229" width="110" height="80" fill="url(#hk)"/>
<rect x="569" y="1229" width="109" height="80" fill="url(#hk)"/>
</g>
<g class="s" font-size="5" font-weight="bold" fill="#111"><text x="508" y="1158">A</text><text x="618" y="1158">B</text><text x="727" y="1158">C</text><text x="561" y="1237">D</text><text x="671" y="1237">E</text></g>
<text x="447" y="1327" class="s" font-size="13" textLength="243"><tspan font-weight="bold">Fig. 8.</tspan> Hematoxylin and eosin staining of</text>
<text x="570" y="1345" class="s" font-size="13" text-anchor="middle">kidney samples</text>
</svg>
</body></html>
